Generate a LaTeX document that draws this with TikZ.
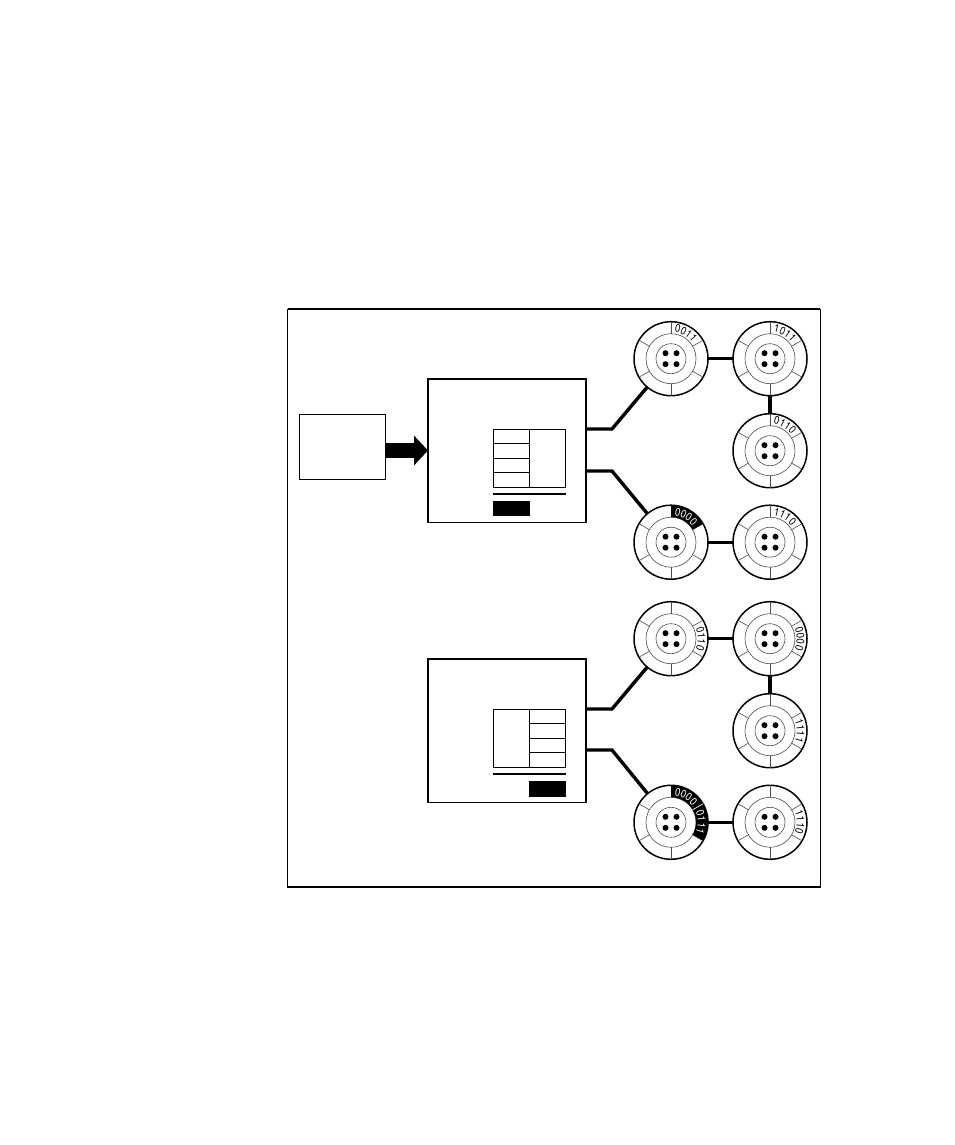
\documentclass[tikz,border=0pt]{standalone}
\usepackage{fontspec}
\setmainfont{TeX Gyre Heros}
\usetikzlibrary{arrows.meta,decorations.text}
\newfontfamily\labfont[FakeStretch=0.88]{TeX Gyre Heros}
\tikzset{
  frametop/.style={draw=black,line width=1.9pt},
  framebottom/.style={draw=black,line width=1.1pt},
  framevert/.style={draw=black,line width=1pt},
  boxline/.style={draw=black,line width=1.4pt,fill=white,inner sep=0pt,outer sep=0pt},
  tableline/.style={draw=black,line width=0.9pt},
  rule/.style={draw=black,line width=1.7pt},
  discnode/.style={circle,draw=black,line width=1.5pt,fill=white,minimum size=74pt,inner sep=0pt,outer sep=0pt},
  thin part/.style={draw=black!70,line width=0.6pt},
  wire/.style={draw=black,line width=3.4pt,miter limit=10},
  bigarrow/.style={draw=black,line width=15pt,-{Triangle[length=14pt,width=29pt]}},
}
\newcommand{\discunit}[3]{%
  \node[discnode] (#1) at (#2,#3) {};
  \draw[thin part] (#1.center) circle[radius=25pt];
  \draw[thin part] (#1.center) circle[radius=15pt];
  \foreach \a in {90,30,-30,-90,-150,150}
    \draw[thin part] (#1.center) ++(\a:25pt) -- ++(\a:12pt);
  \foreach \dx/\dy in {-5.5/-5.5,5.5/-5.5,-5.5/5.5,5.5/5.5}
    \fill[black] (#1.center) ++(\dx pt,\dy pt) circle[radius=3pt];
}
\newcommand{\sector}[3]{%
  \fill[black] (#1.center) ++(#2:25pt) arc[start angle=#2,end angle=#3,radius=25pt]
    -- ++(#3:12pt) arc[start angle=#3,end angle=#2,radius=37pt] -- cycle;
}
% disc, digits, mid angle, colour
\newcommand{\digits}[4]{%
  \path[decorate,decoration={text along path,text align=center,
    text={|\labfont\fontsize{11pt}{12pt}\selectfont\color{#4}|#2}}]
    (#1.center) ++(#3+35:26.8pt) arc[start angle=#3+35,end angle=#3-35,radius=26.8pt];
}
\begin{document}
\begin{tikzpicture}[x=1pt,y=-1pt]
\useasboundingbox (0,0) rectangle (954,1145);
\fill[white] (0,0) rectangle (954,1145);
\draw[frametop] (288,309) -- (820.3,309);
\draw[framebottom] (286.6,887) -- (820.6,887);
\draw[framevert] (287,309) -- (287,887);
\draw[framevert] (820.3,309) -- (820.3,887);

% source and the two blocks
\node[boxline,minimum width=86pt,minimum height=65pt] (src) at (342.3,446.8) {};
\node[boxline,minimum width=158pt,minimum height=143.7pt] (boxA) at (507,450.9) {};
\node[boxline,minimum width=158pt,minimum height=143.7pt] (boxB) at (507,730.9) {};
\coordinate (aim) at (428,450.5);
\draw[bigarrow] (src.east |- aim) -- (aim);

% table A
\node[tableline,rectangle,inner sep=0pt,outer sep=0pt,minimum width=72.4pt,minimum height=58pt] (tabA) at (529.5,458.3) {};
\draw[tableline] (529.3,429.3) -- (529.3,487.3);
\foreach \yy in {443.3,458.3,472.3} \draw[tableline] (493.3,\yy) -- (529.3,\yy);
\draw[rule] (492.5,493.8) -- (566,493.8);
\fill[black] (493,501) rectangle (530,515.7);

% table B
\node[tableline,rectangle,inner sep=0pt,outer sep=0pt,minimum width=72.4pt,minimum height=58pt] (tabB) at (529.5,738.3) {};
\draw[tableline] (529.3,709.3) -- (529.3,767.3);
\foreach \yy in {723.3,738.3,752.3} \draw[tableline] (529.3,\yy) -- (565.7,\yy);
\draw[rule] (492.5,773.8) -- (566,773.8);
\fill[black] (529,781) rectangle (566,796.5);

% discs
\discunit{d1}{671}{358.7}
\discunit{d2}{770}{358.7}
\discunit{d3}{770}{450.7}
\discunit{d4}{671}{542.2}
\discunit{d5}{770}{542.2}
\discunit{d6}{671}{638.7}
\discunit{d7}{770}{638.7}
\discunit{d8}{770}{730.7}
\discunit{d9}{671}{822.3}
\discunit{d10}{770}{822.3}

\sector{d4}{90}{30}
\sector{d9}{90}{30}
\sector{d9}{30}{-30}
\draw[white,line width=0.7pt] (d9.center) ++(30:25pt) -- ++(30:12pt);

% connectors
\coordinate (e1) at (612,429);
\coordinate (e2) at (612,471);
\coordinate (e3) at (612,709);
\coordinate (e4) at (612,750);
\draw[wire] (boxA.east |- e1) -- (e1) -- (d1);
\draw[wire] (boxA.east |- e2) -- (e2) -- (d4);
\draw[wire] (boxB.east |- e3) -- (e3) -- (d6);
\draw[wire] (boxB.east |- e4) -- (e4) -- (d9);
\draw[wire] (d1) -- (d2);
\draw[wire] (d2) -- (d3);
\draw[wire] (d4) -- (d5);
\draw[wire] (d6) -- (d7);
\draw[wire] (d7) -- (d8);
\draw[wire] (d9) -- (d10);

% labels
\digits{d1}{0011}{60}{black}
\digits{d2}{1011}{60}{black}
\digits{d3}{0110}{60}{black}
\digits{d4}{0000}{60}{white}
\digits{d5}{1110}{60}{black}
\digits{d6}{0110}{0}{black}
\digits{d7}{0000}{0}{black}
\digits{d8}{1111}{0}{black}
\digits{d9}{0000}{60}{white}
\digits{d9}{0111}{0}{white}
\digits{d10}{1110}{0}{black}
\end{tikzpicture}
\end{document}
